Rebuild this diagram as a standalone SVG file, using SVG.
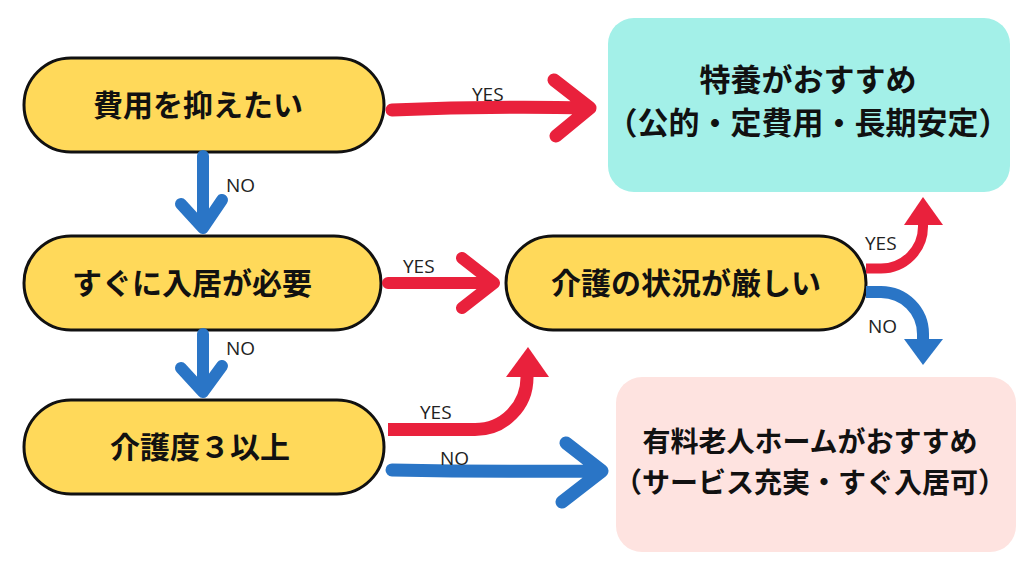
<svg xmlns="http://www.w3.org/2000/svg" width="1024" height="576" viewBox="0 0 1024 576">
<style>
.node{fill:#FFD95A;stroke:#111;stroke-width:3}
.jp{font-family:"Noto Sans CJK JP","Noto Sans",sans-serif;font-weight:bold;fill:#111;text-anchor:middle}
.lbl{font-family:"Open Sans","Noto Sans",sans-serif;font-size:19px;fill:#222}
.red{stroke:#E9213C;fill:none;stroke-linecap:round;stroke-linejoin:round}
.blue{stroke:#2A75C6;fill:none;stroke-linecap:round;stroke-linejoin:round}
</style>
<rect width="1024" height="576" fill="#fff"/>
<g id="result-tokuyo">
<rect x="608" y="18" width="402" height="174" rx="26" fill="#A3F0E8"/>
<text class="jp" x="808" y="91" font-size="31">特養がおすすめ</text>
<text class="jp" x="808" y="134" font-size="31">（公的・定費用・長期安定）</text>
</g>
<g id="result-yuryo">
<rect x="616" y="377" width="400" height="175" rx="26" fill="#FEE3E0"/>
<text class="jp" x="810" y="452" font-size="28">有料老人ホームがおすすめ</text>
<text class="jp" x="810" y="493" font-size="28">（サービス充実・すぐ入居可）</text>
</g>
<g id="q1">
<rect class="node" x="24" y="58" width="360" height="94" rx="47"/>
<text class="jp" x="198" y="116" font-size="30">費用を抑えたい</text>
</g>
<g id="q2">
<rect class="node" x="24" y="236" width="357" height="94" rx="47"/>
<text class="jp" x="192" y="294" font-size="30">すぐに入居が必要</text>
</g>
<g id="q3">
<rect class="node" x="24" y="400" width="360" height="94" rx="47"/>
<text class="jp" x="200" y="458" font-size="30">介護度３以上</text>
</g>
<g id="q4">
<rect class="node" x="506" y="236" width="360" height="94" rx="47"/>
<text class="jp" x="686" y="294" font-size="30">介護の状況が厳しい</text>
</g>
<g id="connectors">
<path class="red" stroke-width="13" d="M392,110 Q490,106 590,108 M554,80 L590,108 L556,136"/>
<text class="lbl" x="472" y="101">YES</text>
<path class="blue" stroke-width="12" d="M203,156 V228 M181,204 L203,228 L222,200"/>
<text class="lbl" x="226" y="192">NO</text>
<path class="red" stroke-width="12" d="M388,283 H492 M462,258 L494,283 L462,308"/>
<text class="lbl" x="403" y="273">YES</text>
<path class="blue" stroke-width="12" d="M203,334 V390 M181,368 L203,392 L222,366"/>
<text class="lbl" x="226" y="355">NO</text>
<path fill="none" stroke="#E9213C" stroke-width="13" d="M388,429.5 H475 A52 52 0 0 0 527,377.5 V372"/>
<polygon fill="#E9213C" points="506,377 549,377 528,347"/>
<text class="lbl" x="420" y="419">YES</text>
<path class="blue" stroke-width="13" d="M392,470 Q500,472 600,471 M566,443 L602,471 L562,502"/>
<text class="lbl" x="440" y="465">NO</text>
<path fill="none" stroke="#E9213C" stroke-width="10" d="M866,268.5 H881 A42 42 0 0 0 923,226.5 V222"/>
<polygon fill="#E9213C" points="904,225 943,225 923,197"/>
<text class="lbl" x="865" y="250">YES</text>
<path fill="none" stroke="#2A75C6" stroke-width="12" d="M866,292 H881 A42 42 0 0 1 923,334 V340"/>
<polygon fill="#2A75C6" points="904,339 943,339 923,365"/>
<text class="lbl" x="868" y="333">NO</text>
</g>
</svg>
